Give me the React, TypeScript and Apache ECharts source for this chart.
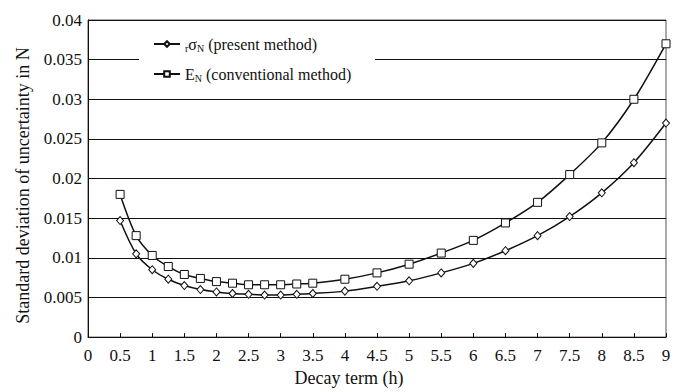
import React, { useEffect, useRef } from "react";
import * as echarts from "echarts";

const xValues = [0.5, 0.75, 1, 1.25, 1.5, 1.75, 2, 2.25, 2.5, 2.75, 3, 3.25, 3.5, 4, 4.5, 5, 5.5, 6, 6.5, 7, 7.5, 8, 8.5, 9];
const sigmaValues = [0.0147, 0.0105, 0.0085, 0.0073, 0.0065, 0.006, 0.0057, 0.0055, 0.0054, 0.0053, 0.0053, 0.0054, 0.0055, 0.0058, 0.0064, 0.0071, 0.0081, 0.0093, 0.0109, 0.0128, 0.0152, 0.0182, 0.022, 0.027];
const eValues = [0.018, 0.0128, 0.0103, 0.0089, 0.0079, 0.0074, 0.007, 0.0068, 0.0066, 0.0066, 0.0066, 0.0067, 0.0068, 0.0073, 0.0081, 0.0092, 0.0106, 0.0122, 0.0144, 0.017, 0.0205, 0.0245, 0.03, 0.037];
const seriesNames = ["sigma", "E"];

const FONT = "Times New Roman, Liberation Serif, serif";

export default function App() {
  const ref = useRef<HTMLDivElement>(null);
  useEffect(() => {
    const chart = echarts.init(ref.current!, null, { renderer: "svg" });
    const toPairs = (ys: number[]) => xValues.map((x, i) => [x, ys[i]]);
    chart.setOption({
      animation: false,
      backgroundColor: "#fff",
      textStyle: { fontFamily: FONT },
      grid: { left: 88, right: 19, top: 20, bottom: 52, show: true, borderColor: "#555", borderWidth: 1 },
      xAxis: {
        type: "value",
        min: 0,
        max: 9,
        interval: 0.5,
        name: "Decay term (h)",
        nameLocation: "middle",
        nameGap: 31,
        nameTextStyle: { fontFamily: FONT, fontSize: 18, color: "#111", padding: [0, 56, 0, 0] },
        axisLine: { lineStyle: { color: "#111", width: 1 } },
        axisTick: { inside: true, length: 4, lineStyle: { color: "#111" } },
        axisLabel: { fontFamily: FONT, fontSize: 17, color: "#111", margin: 10 },
        splitLine: { show: false },
      },
      yAxis: {
        type: "value",
        min: 0,
        max: 0.04,
        interval: 0.005,
        name: "Standard deviation of uncertainty in N",
        nameLocation: "middle",
        nameGap: 56,
        nameTextStyle: { fontFamily: FONT, fontSize: 18, color: "#111", padding: [0, 14, 0, 0] },
        axisLine: { show: true, lineStyle: { color: "#111", width: 1 } },
        axisTick: { show: false },
        axisLabel: { fontFamily: FONT, fontSize: 17, color: "#111", margin: 6 },
        splitLine: { show: true, lineStyle: { color: "#111", width: 1 } },
      },
      graphic: [
        { type: "rect", z: 3, shape: { x: 139, y: 50, width: 236, height: 20 }, style: { fill: "#fff" } },
      ],
      legend: {
        orient: "vertical",
        left: 148,
        top: 31,
        z: 10,
        itemWidth: 26,
        itemHeight: 7,
        itemGap: 13,
        data: seriesNames,
        formatter: (name: string) =>
          name === "sigma" ? "{s|r}σ{s|N} (present method)" : "E{s|N} (conventional method)",
        textStyle: {
          fontFamily: FONT,
          fontSize: 16,
          color: "#111",
          rich: {
            s: { fontFamily: FONT, fontSize: 10, color: "#111", verticalAlign: "bottom", padding: [8, 0, 0, 0] },
          },
        },
      },
      series: [
        {
          name: "sigma",
          type: "line",
          data: toPairs(sigmaValues),
          smooth: 0.3,
          symbol: "diamond",
          symbolSize: [7, 8],
          lineStyle: { color: "#111", width: 1.5 },
          itemStyle: { color: "#fff", borderColor: "#111", borderWidth: 1 },
        },
        {
          name: "E",
          type: "line",
          data: toPairs(eValues),
          smooth: 0.3,
          symbol: "rect",
          symbolSize: 8,
          lineStyle: { color: "#111", width: 1.5 },
          itemStyle: { color: "#fff", borderColor: "#111", borderWidth: 1 },
        },
      ],
    });
    return () => chart.dispose();
  }, []);
  return <div ref={ref} style={{ width: 685, height: 392, position: "absolute", left: 0, top: 0 }} />;
}
